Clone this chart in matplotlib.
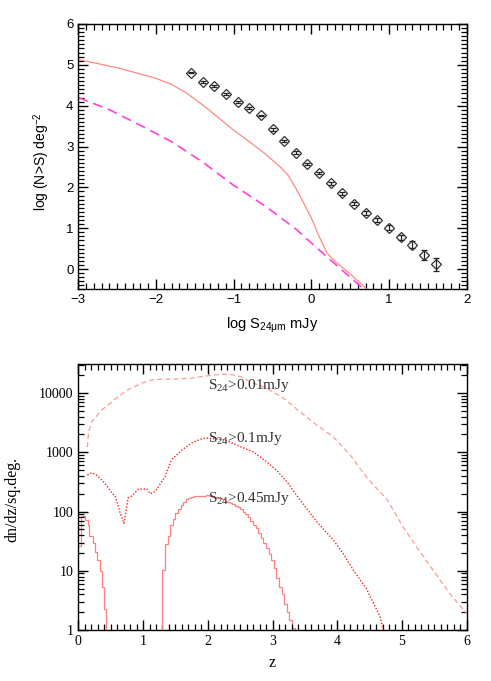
import numpy as np
import matplotlib
matplotlib.use("Agg")
from matplotlib import pyplot as plt
from matplotlib.ticker import MultipleLocator, LogLocator, NullFormatter, FixedLocator, FuncFormatter

plt.rcParams['mathtext.fontset'] = 'custom'
plt.rcParams['mathtext.rm'] = 'Liberation Serif'
plt.rcParams['mathtext.sf'] = 'Liberation Sans'
plt.rcParams['mathtext.it'] = 'Liberation Serif:italic'

SANS = 'Liberation Sans'
SERIF = 'Liberation Serif'

# ---- top panel: source counts ----
obs_logs = [-1.55, -1.40, -1.25, -1.10, -0.95, -0.80, -0.65, -0.50, -0.35, -0.20, -0.05,
            0.10, 0.25, 0.40, 0.55, 0.70, 0.85, 1.00, 1.15, 1.30, 1.45, 1.60]
obs_logn = [4.81, 4.58, 4.48, 4.28, 4.09, 3.95, 3.76, 3.42, 3.13, 2.85, 2.57,
            2.35, 2.10, 1.85, 1.60, 1.37, 1.20, 1.01, 0.78, 0.60, 0.34, 0.12]
obs_err = [0.02, 0.02, 0.02, 0.02, 0.02, 0.02, 0.02, 0.03, 0.03, 0.03, 0.03,
           0.03, 0.03, 0.04, 0.04, 0.05, 0.05, 0.06, 0.06, 0.08, 0.13, 0.16]

model_logs = [-3.0, -2.5, -2.0, -1.8, -1.6, -1.4, -1.2, -1.0, -0.8, -0.6, -0.4,
              -0.3, -0.2, -0.1, 0.0, 0.1, 0.2, 0.3, 0.5, 0.72]
model_logn = [5.13, 4.93, 4.67, 4.52, 4.30, 4.02, 3.71, 3.40, 3.12, 2.83, 2.50,
              2.30, 1.98, 1.62, 1.25, 0.80, 0.40, 0.20, -0.12, -0.50]

dash_logs = [-3.0, -2.6, -2.2, -1.8, -1.4, -1.0, -0.6, -0.2, 0.2, 0.68]
dash_logn = [4.20, 3.90, 3.52, 3.12, 2.62, 2.05, 1.55, 0.98, 0.30, -0.50]

# ---- bottom panel: redshift distributions ----
z_001 = [0.14, 0.16, 0.21, 0.28, 0.36, 0.46, 0.62, 0.77, 0.98, 1.13, 1.30, 1.49, 1.75,
         2.00, 2.20, 2.37, 2.50, 2.70, 2.91, 3.17, 3.45, 3.68, 3.94, 4.20, 4.46, 4.77,
         5.02, 5.23, 5.48, 5.74, 6.00]
n_001 = [1230, 2250, 3300, 4050, 5200, 6300, 8800, 11400, 14700, 16700, 17200, 17300, 17900,
         19600, 20800, 20600, 19000, 14800, 12100, 8200, 4600, 2900, 1820, 900, 370, 160,
         54, 25, 10.2, 4.1, 1.9]

z_01 = [0.14, 0.21, 0.28, 0.41, 0.52, 0.57, 0.645, 0.706, 0.77, 0.825, 0.93, 1.06, 1.11,
        1.19, 1.34, 1.44, 1.60, 1.75, 1.91, 2.00, 2.27, 2.50, 2.70, 2.91, 3.06, 3.22, 3.42,
        3.68, 3.94, 4.09, 4.25, 4.45, 4.66, 4.72]
n_01 = [415, 450, 415, 300, 205, 183, 95, 63, 170, 183, 240, 240, 200,
        219, 390, 750, 1090, 1440, 1700, 1740, 1620, 1250, 1020, 690, 500, 320, 160,
        68, 33, 19.6, 10.2, 5.0, 1.7, 0.9]

edges_045_lo = [0.0, 0.04, 0.11, 0.15, 0.17, 0.22, 0.26, 0.29, 0.33, 0.36, 0.39, 0.42, 0.45]
n_045_lo = [26, 83, 72, 60, 38, 30, 21, 15, 10, 5.4, 2.3, 0.3]

edges_045_hi = [1.30, 1.34, 1.38, 1.42, 1.46, 1.50, 1.54, 1.58, 1.62, 1.66, 1.70, 1.74, 1.78,
                1.82, 1.86, 1.90, 1.94, 1.98, 2.02, 2.06, 2.10, 2.14, 2.18, 2.22, 2.26, 2.30,
                2.34, 2.38, 2.42, 2.46, 2.50, 2.54, 2.58, 2.62, 2.66, 2.70, 2.74, 2.78, 2.82,
                2.86, 2.90, 2.94, 2.98, 3.02, 3.06, 3.10, 3.14, 3.18, 3.22, 3.26, 3.30, 3.34, 3.38]
n_045_hi = [10.5, 28, 38, 60, 76, 96, 112, 128, 145, 160, 172, 177, 180,
            182, 183, 185, 186, 187, 184, 180, 176, 172, 167, 160, 153, 146,
            140, 134, 126, 118, 109, 99, 90, 80, 70, 60, 52, 44, 36,
            29, 24, 19, 15, 11, 7.5, 5.3, 4.0, 2.8, 2.0, 1.5, 1.1, 0.3]

labels = ['S$_{\\mathrm{24}}$>0.01mJy', 'S$_{\\mathrm{24}}$>0.1mJy', 'S$_{\\mathrm{24}}$>0.45mJy']
label_y = [13500, 1700, 166]


def style_axes(ax, family):
    ax.tick_params(which='major', direction='in', top=True, right=True,
                   width=1.0, length=7, color='black')
    ax.tick_params(which='minor', direction='in', top=True, right=True,
                   width=0.9, length=4, color='black')
    for s in ax.spines.values():
        s.set_linewidth(1.0)
    for lab in ax.get_xticklabels() + ax.get_yticklabels():
        lab.set_family(family)


fig = plt.figure(figsize=(4.91, 6.81), dpi=100)

ax1 = fig.add_axes([0.1595, 0.5749, 0.791, 0.3899])
ax1.plot(model_logs, model_logn, color='#ff8a80', lw=0.9)
ax1.plot(dash_logs, dash_logn, color='#ff40dd', lw=1.2, dashes=(6, 3.5))
ax1.errorbar(obs_logs, obs_logn, yerr=obs_err, fmt='D', ms=5, mfc='none', mec='#333333',
             mew=0.9, ecolor='#222222', elinewidth=0.9, capsize=2.5)
ax1.set_xlim(-3, 2)
ax1.set_ylim(-0.5, 6)
ax1.xaxis.set_major_locator(MultipleLocator(1))
ax1.xaxis.set_minor_locator(MultipleLocator(0.1))
ax1.yaxis.set_major_locator(FixedLocator([0, 1, 2, 3, 4, 5, 6]))
ax1.yaxis.set_minor_locator(MultipleLocator(0.1))
ax1.tick_params(labelsize=9.5)
style_axes(ax1, SANS)
ax1.set_xlabel('log S$_{\\mathsf{24\\mu m}}$ mJy', family=SANS, fontsize=10.5)
ax1.set_ylabel('log (N>S) deg$^{\\mathsf{-2}}$', family=SANS, fontsize=10)
ax1.xaxis.set_label_coords(0.5, -0.1)
ax1.yaxis.set_label_coords(-0.068, 0.48)

ax2 = fig.add_axes([0.1595, 0.0749, 0.791, 0.3906])
ax2.plot(z_001, n_001, color='#ff9a9a', lw=0.9, dashes=(4, 2.5))
ax2.plot(z_01, n_01, color='#ff2020', lw=1.0, linestyle=(0, (1, 1.3)))
ax2.stairs(n_045_lo, edges_045_lo, baseline=None, color='#ff8080', lw=0.9)
ax2.stairs(n_045_hi, edges_045_hi, baseline=None, color='#ff8080', lw=0.9)
ax2.plot([edges_045_hi[0], edges_045_hi[0]], [0.5, n_045_hi[0]], color='#ff8080', lw=0.9)
ax2.set_yscale('log')
ax2.set_xlim(0, 6)
ax2.set_ylim(1, 3.1e4)
ax2.xaxis.set_major_locator(MultipleLocator(1))
ax2.xaxis.set_minor_locator(MultipleLocator(0.1))
ax2.yaxis.set_major_locator(FixedLocator([1, 10, 100, 1000, 10000]))
ax2.yaxis.set_major_formatter(FuncFormatter(lambda v, p: '%d' % round(v)))
ax2.yaxis.set_minor_locator(LogLocator(base=10, subs=np.arange(2, 10), numticks=20))
ax2.yaxis.set_minor_formatter(NullFormatter())
ax2.tick_params(labelsize=10)
style_axes(ax2, SERIF)
for txt, yv in zip(labels, label_y):
    ax2.text(2.0, yv, txt, family=SERIF, fontsize=11, ha='left', va='center', color='#333333')
ax2.set_xlabel('z', family=SERIF, fontsize=11.5)
ax2.set_ylabel('dn/dz/sq.deg.', family=SERIF, fontsize=11.5)
ax2.xaxis.set_label_coords(0.5, -0.095)
ax2.yaxis.set_label_coords(-0.15, 0.49)

fig.savefig('out.png', dpi=100)
